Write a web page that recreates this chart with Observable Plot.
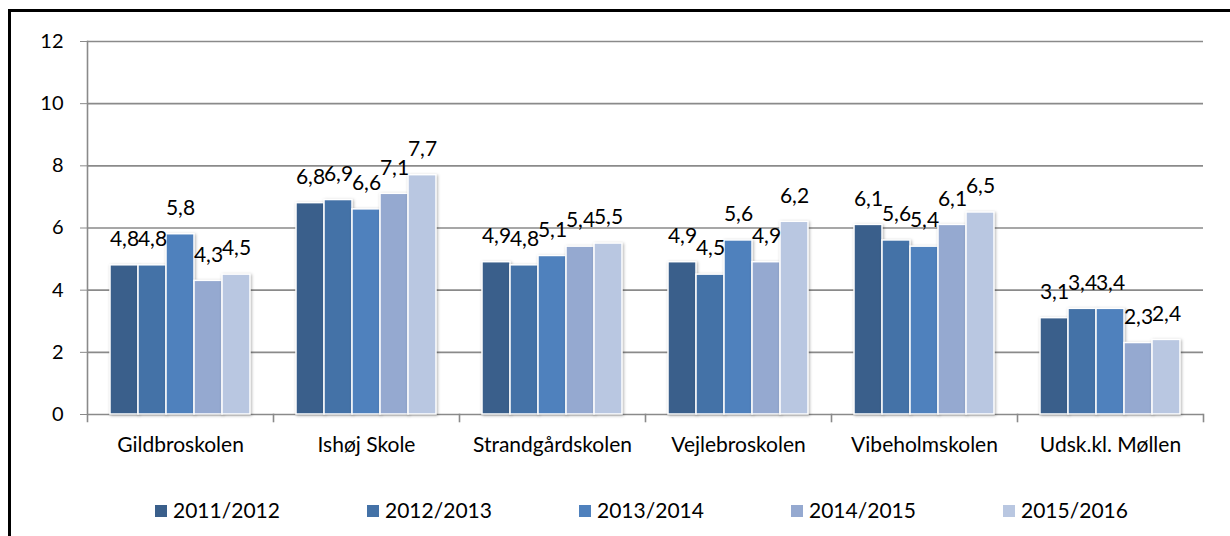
<!DOCTYPE html>
<html>
<head>
<meta charset="utf-8">
<script src="https://cdn.jsdelivr.net/npm/d3@7"></script>
<script src="https://cdn.jsdelivr.net/npm/@observablehq/plot@0.6"></script>
<style>
  html, body { margin: 0; padding: 0; background: #fff; }
  body { width: 1230px; height: 536px; position: relative; overflow: hidden; font-family: Lato, "Open Sans", sans-serif; }
  #frame { position: absolute; left: 8px; top: 9px; width: 1240px; height: 540px; border-left: 3px solid #000; border-top: 3px solid #000; }
  #chart { position: absolute; left: 0; top: 0; }
  #legend { position: absolute; left: 155px; top: 497px; display: flex; }
  .item { width: 212px; display: flex; align-items: center; font-size: 21px; color: #000; }
  .sw { width: 12px; height: 12px; margin-right: 6px; margin-top: 3px; }
  g[aria-label="bar"] rect { filter: drop-shadow(1.5px 1.5px 1.5px rgba(0,0,0,0.3)); }
</style>
</head>
<body>
<div id="frame"></div>
<div id="chart"></div>
<div id="legend"></div>
<script>
const schools = ["Gildbroskolen", "Ishøj Skole", "Strandgårdskolen", "Vejlebroskolen", "Vibeholmskolen", "Udsk.kl. Møllen"];
const years = ["2011/2012", "2012/2013", "2013/2014", "2014/2015", "2015/2016"];
const values2011 = [4.8, 6.8, 4.9, 4.9, 6.1, 3.1];
const values2012 = [4.8, 6.9, 4.8, 4.5, 5.6, 3.4];
const values2013 = [5.8, 6.6, 5.1, 5.6, 5.4, 3.4];
const values2014 = [4.3, 7.1, 5.4, 4.9, 6.1, 2.3];
const values2015 = [4.5, 7.7, 5.5, 6.2, 6.5, 2.4];
const yTicks = [0, 2, 4, 6, 8, 10, 12];
const colors = ["#3A5F8B", "#4472A7", "#4F81BD", "#95A9D0", "#B9C7E1"];

const series = [values2011, values2012, values2013, values2014, values2015];
const data = [];
schools.forEach((s, i) => years.forEach((y, j) => data.push({school: s, year: y, value: series[j][i]})));

const grey = "#8a8a8a";
const chart = Plot.plot({
  width: 1230,
  height: 470,
  marginLeft: 87,
  marginRight: 27,
  marginTop: 41,
  marginBottom: 56,
  style: {fontFamily: "Lato, 'Open Sans', sans-serif", fontSize: "20px", color: "#000", background: "transparent"},
  fx: {domain: schools, padding: 0, label: null},
  x: {domain: years, paddingInner: 0, paddingOuter: 0.8, axis: null},
  y: {domain: [0, 12], label: null},
  color: {domain: years, range: colors},
  marks: [
    Plot.ruleY(yTicks, {stroke: grey, strokeWidth: 1.6}),
    Plot.frame({anchor: "left", facetAnchor: "left", stroke: grey, strokeWidth: 1.6, insetBottom: -7}),
    Plot.frame({anchor: "right", stroke: grey, strokeWidth: 1.6, insetTop: 373, insetBottom: -7}),
    Plot.barY(data, {fx: "school", x: "year", y: "value", fill: "year", stroke: "#fff", strokeWidth: 1.5}),
    Plot.text(data, {fx: "school", x: "year", y: "value", text: d => d.value.toFixed(1).replace(".", ","), dy: -26, fontSize: 21, fill: "#000"}),
    Plot.axisY({ticks: yTicks, tickSize: 7, tickPadding: 17, stroke: grey, fill: "#000", fontSize: 20, label: null, tickFormat: d => String(d)}),
    Plot.axisFx({anchor: "bottom", tickSize: 0, tickPadding: 23, fontSize: 21, label: null, fill: "#000"})
  ]
});
document.getElementById("chart").appendChild(chart);

const legend = document.getElementById("legend");
years.forEach((y, j) => {
  const item = document.createElement("div");
  item.className = "item";
  const sw = document.createElement("span");
  sw.className = "sw";
  sw.style.background = colors[j];
  const t = document.createElement("span");
  t.textContent = y;
  item.appendChild(sw);
  item.appendChild(t);
  legend.appendChild(item);
});
</script>
</body>
</html>
